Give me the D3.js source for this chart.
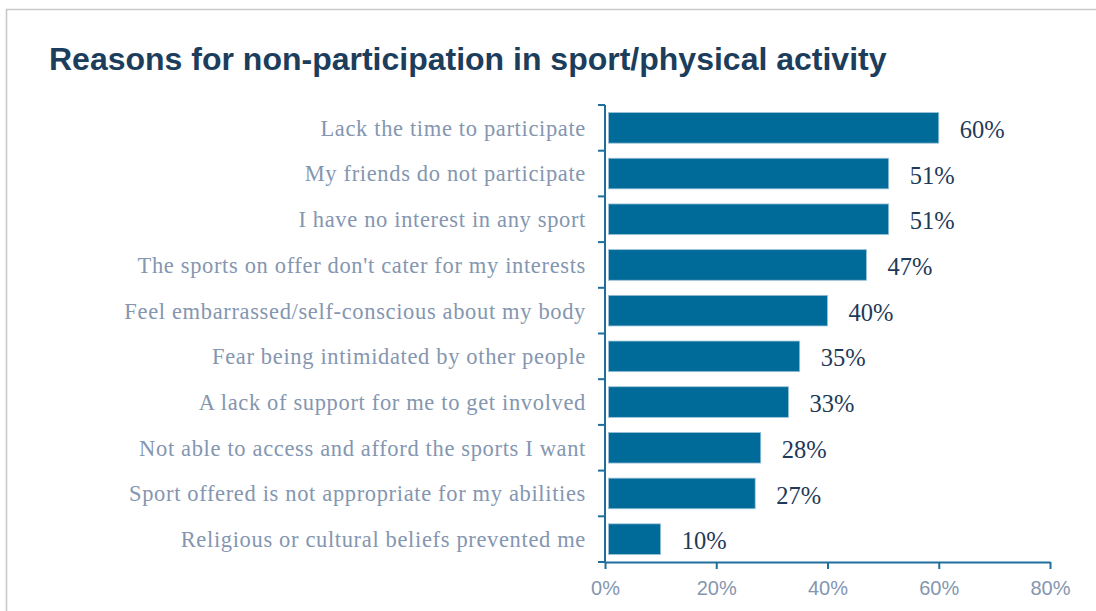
<!DOCTYPE html>
<html>
<head>
<meta charset="utf-8">
<script src="https://cdn.jsdelivr.net/npm/d3@7"></script>
<style>
  html, body { margin: 0; padding: 0; background: #ffffff; }
  svg { display: block; }
</style>
</head>
<body>
<svg id="chart" width="1096" height="611"></svg>
<script>
// Survey reasons, top to bottom
const reasons = [
  "Lack the time to participate",
  "My friends do not participate",
  "I have no interest in any sport",
  "The sports on offer don't cater for my interests",
  "Feel embarrassed/self-conscious about my body",
  "Fear being intimidated by other people",
  "A lack of support for me to get involved",
  "Not able to access and afford the sports I want",
  "Sport offered is not appropriate for my abilities",
  "Religious or cultural beliefs prevented me"
];
// Share of respondents citing each reason (%)
const shares = [60, 51, 51, 47, 40, 35, 33, 28, 27, 10];
// Horizontal axis ticks (%)
const tickValues = [0, 20, 40, 60, 80];

const titleText = "Reasons for non-participation in sport/physical activity";

const svg = d3.select("#chart");
const W = 1096, H = 611;
const margin = { left: 605, right: 46, top: 105, bottom: 49 };

const barColor = "#006a99";
const axisColor = "#1f6f9d";
const labelColor = "#8496b0";
const valueColor = "#1f3a57";

// Frame around the chart area
svg.append("path")
  .attr("d", `M6.5,${H} V9.5 H${W}`)
  .attr("fill", "none")
  .attr("stroke", "#c9c9c9")
  .attr("stroke-width", 1.6);

// Title
svg.append("text")
  .attr("x", 49)
  .attr("y", 70)
  .attr("font-family", "'Liberation Sans', Arial, sans-serif")
  .attr("font-weight", "bold")
  .attr("font-size", 32)
  .attr("fill", "#1c3d5b")
  .text(titleText);

const x = d3.scaleLinear()
  .domain([0, 80])
  .range([margin.left, W - margin.right]);

const y = d3.scaleBand()
  .domain(reasons)
  .range([margin.top, H - margin.bottom])
  .paddingInner(0.33)
  .paddingOuter(0.165);

// Bars
svg.append("g")
  .selectAll("rect")
  .data(reasons)
  .join("rect")
  .attr("x", x(0) + 3.5)
  .attr("y", d => y(d))
  .attr("width", (d, i) => x(shares[i]) - x(0) - 3.5)
  .attr("height", y.bandwidth())
  .attr("fill", barColor)
  .attr("stroke", "#9cc3d8")
  .attr("stroke-width", 0.8);

// Value labels
svg.append("g")
  .selectAll("text")
  .data(reasons)
  .join("text")
  .attr("x", (d, i) => x(shares[i]) + 21)
  .attr("y", d => y(d) + y.bandwidth() / 2 + 1.5)
  .attr("dy", "0.35em")
  .attr("font-family", "'Liberation Serif', 'Times New Roman', serif")
  .attr("font-size", 24.5)
  .attr("fill", valueColor)
  .text((d, i) => shares[i] + "%");

// Category labels
svg.append("g")
  .selectAll("text")
  .data(reasons)
  .join("text")
  .attr("x", 586)
  .attr("y", d => y(d) + y.bandwidth() / 2)
  .attr("dy", "0.35em")
  .attr("text-anchor", "end")
  .attr("font-family", "'Liberation Serif', 'Times New Roman', serif")
  .attr("font-size", 22.5)
  .attr("letter-spacing", 0.65)
  .attr("fill", labelColor)
  .text(d => d);

// Vertical axis with tick marks between categories
const step = y.step();
const boundaries = d3.range(reasons.length + 1).map(i => margin.top + i * step);
const yAxisG = svg.append("g");
yAxisG.append("line")
  .attr("x1", x(0)).attr("x2", x(0))
  .attr("y1", margin.top).attr("y2", H - margin.bottom)
  .attr("stroke", axisColor).attr("stroke-width", 2);
yAxisG.selectAll("line.tick")
  .data(boundaries)
  .join("line")
  .attr("class", "tick")
  .attr("x1", x(0) - 7).attr("x2", x(0))
  .attr("y1", d => d).attr("y2", d => d)
  .attr("stroke", axisColor).attr("stroke-width", 2);

// Horizontal axis
const xAxis = d3.axisBottom(x)
  .tickValues(tickValues)
  .tickSize(7)
  .tickSizeOuter(0)
  .tickFormat(d => d + "%");
const xAxisG = svg.append("g")
  .attr("transform", `translate(0,${H - margin.bottom})`)
  .call(xAxis);
xAxisG.select(".domain").attr("stroke", axisColor).attr("stroke-width", 2);
xAxisG.selectAll(".tick line").attr("stroke", axisColor).attr("stroke-width", 2);
xAxisG.selectAll(".tick text")
  .attr("y", 19)
  .attr("dy", "0.71em")
  .attr("font-family", "'Liberation Sans', Arial, sans-serif")
  .attr("font-size", 20)
  .attr("fill", labelColor);
</script>
</body>
</html>
